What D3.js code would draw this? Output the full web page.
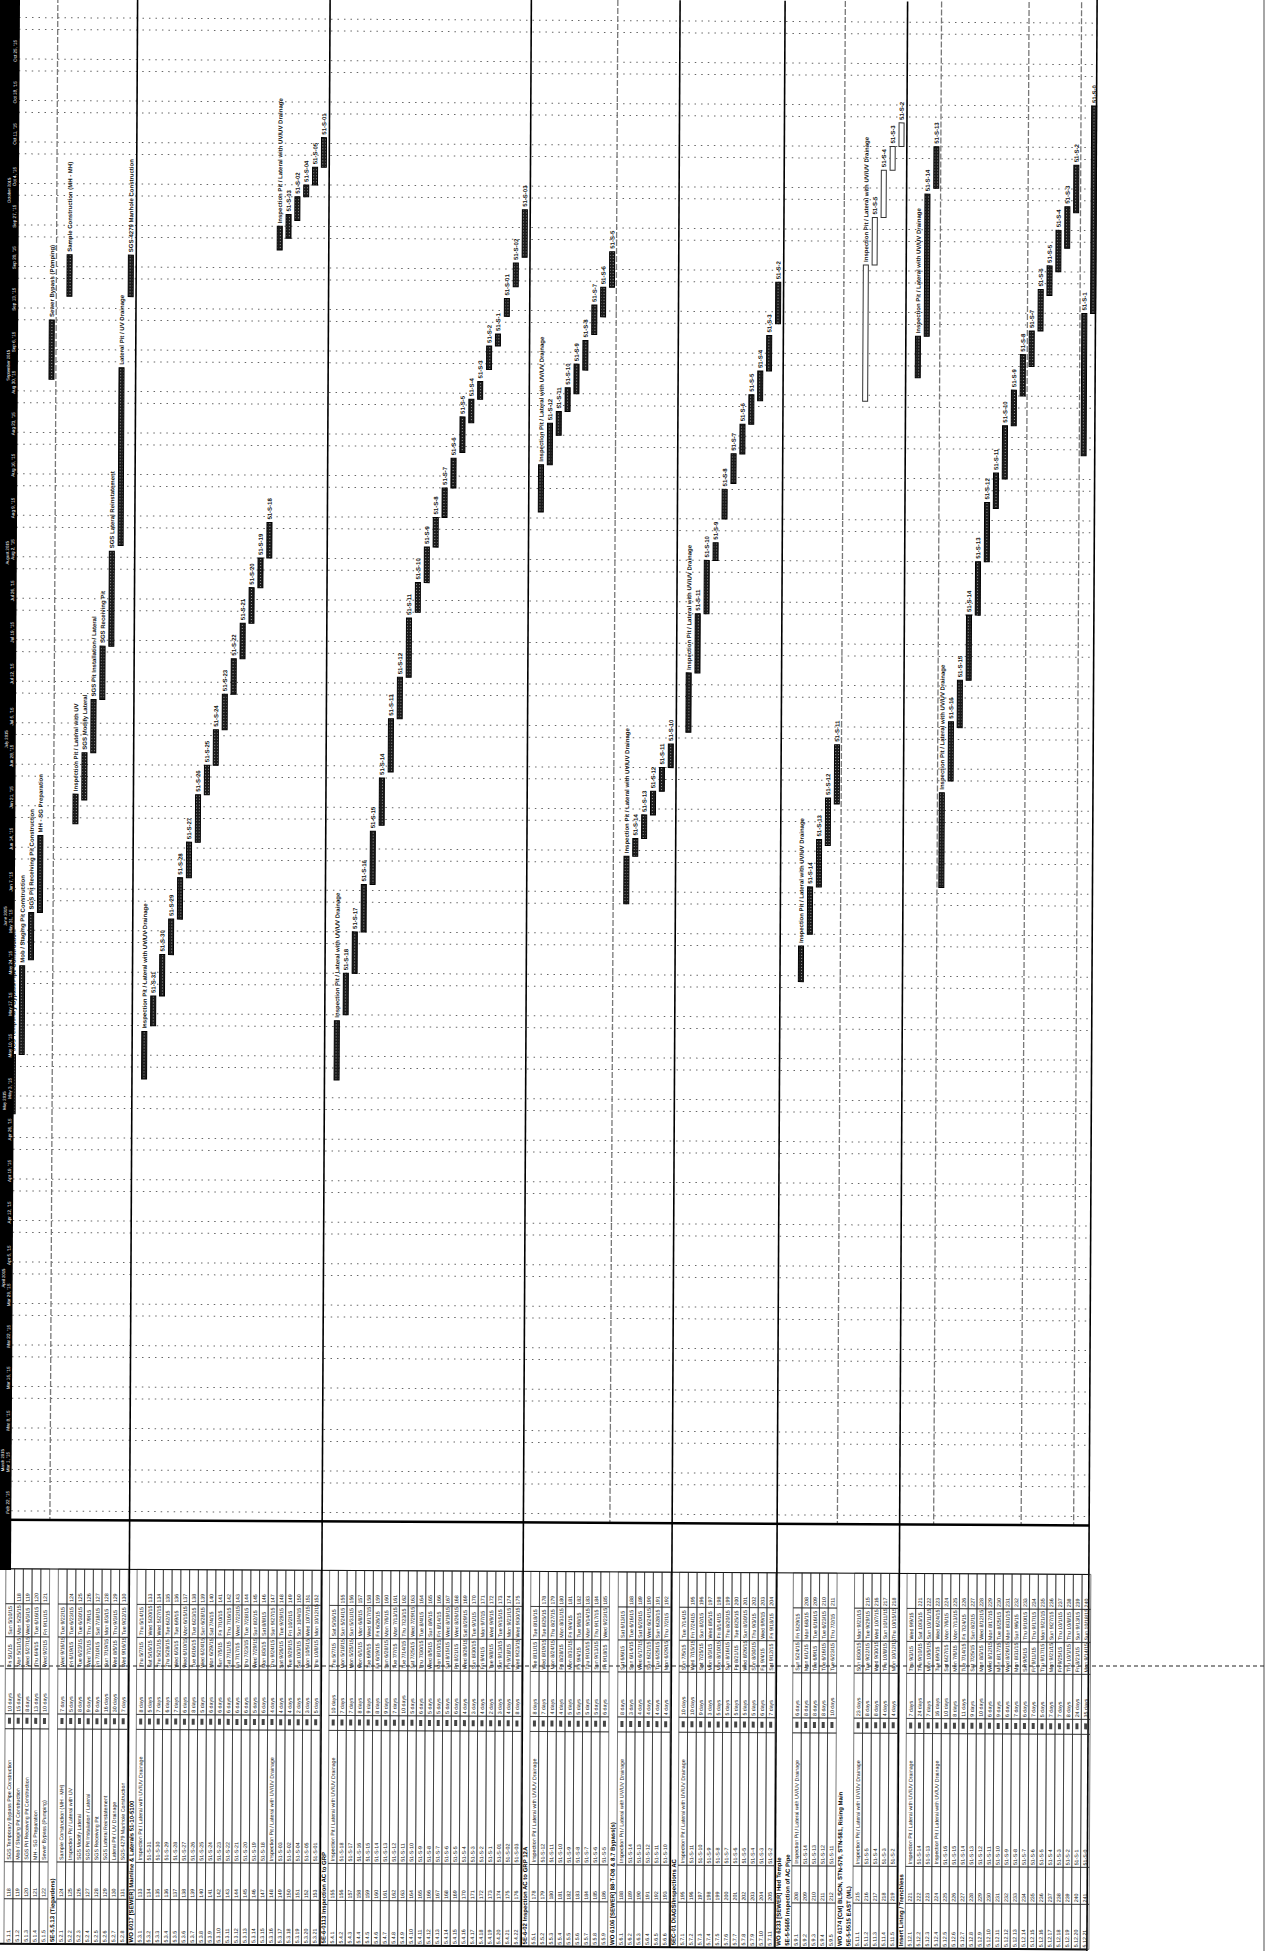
<!DOCTYPE html>
<meta charset="utf-8">
<style>
  body { margin: 0; background: #fff; }
  svg { display: block; }
  .lbl { font-family: "Liberation Sans Narrow", "Liberation Sans", Arial, sans-serif; font-weight: bold; font-size: 6px; fill: #111; }
  .cell { font-family: "Liberation Sans Narrow", "Liberation Sans", Arial, sans-serif; font-size: 5.3px; fill: #111; }
  .hdr { font-family: "Liberation Sans Narrow", "Liberation Sans", Arial, sans-serif; font-weight: bold; font-size: 6px; fill: #000; }
  .tier { font-family: "Liberation Sans Narrow", "Liberation Sans", Arial, sans-serif; fill: #fff; }
</style>
<script src="https://d3js.org/d3.v7.min.js"></script>
<div id="chart"></div>
<script>

// ---- data ----
// sheet row of every task (row 0 = first row on the page)
var taskRows = [0, 1, 2, 3, 4, 6, 7, 8, 9, 10, 11, 12, 13,
  15, 16, 17, 18, 19, 20, 21, 22, 23, 24, 25, 26, 27, 28, 29, 30, 31, 32, 33, 34, 35,
  37, 38, 39, 40, 41, 42, 43, 44, 45, 46, 47, 48, 49, 50, 51, 52, 53, 54, 55, 56, 57, 58,
  60, 61, 62, 63, 64, 65, 66, 67, 68,
  70, 71, 72, 73, 74, 75,
  77, 78, 79, 80, 81, 82, 83, 84, 85, 86, 87,
  90, 91, 92, 93, 94,
  97, 98, 99, 100, 101,
  103, 104, 105,
  106, 107, 108, 109, 110, 111, 112, 113, 114, 115, 116, 117, 118, 119, 120, 121, 122, 123];

var insp = "Inspection Pit / Lateral with UV/UV Drainage";
var taskLabels = ["SGS Temporary Bypass Pipe Construction", "Mob / Staging Pit Construction", "SGS Pit Receiving Pit Construction",
  "MH - SG Preparation", "Sewer Bypass (Pumping)", "Sample Construction (MH - MH)", "Inspection Pit / Lateral with UV",
  "SGS Modify Lateral", "SGS Pit Installation / Lateral", "SGS Receiving Pit", "SGS Lateral Reinstatement",
  "Lateral Pit / UV Drainage", "SGS-4279 Manhole Construction",
  insp, "51-S-31", "51-S-30", "51-S-29", "51-S-28", "51-S-27", "51-S-26", "51-S-25", "51-S-24", "51-S-23",
  "51-S-22", "51-S-21", "51-S-20", "51-S-19", "51-S-18",
  insp, "51-S-03", "51-S-02", "51-S-04", "51-S-05", "51-S-01",
  insp, "51-S-18", "51-S-17", "51-S-16", "51-S-15", "51-S-14", "51-S-13", "51-S-12", "51-S-11", "51-S-10",
  "51-S-9", "51-S-8", "51-S-7", "51-S-6", "51-S-5", "51-S-4", "51-S-3", "51-S-2", "51-S-1", "51-S-01", "51-S-02", "51-S-03",
  insp, "51-S-12", "51-S-11", "51-S-10", "51-S-9", "51-S-8", "51-S-7", "51-S-6", "51-S-5",
  insp, "51-S-14", "51-S-13", "51-S-12", "51-S-11", "51-S-10",
  insp, "51-S-11", "51-S-10", "51-S-9", "51-S-8", "51-S-7", "51-S-6", "51-S-5", "51-S-4", "51-S-3", "51-S-2",
  insp, "51-S-14", "51-S-13", "51-S-12", "51-S-11",
  insp, "51-S-5", "51-S-4", "51-S-3", "51-S-2",
  insp, "51-S-14", "51-S-13",
  insp, "51-S-16", "51-S-15", "51-S-14", "51-S-13", "51-S-12", "51-S-11", "51-S-10", "51-S-9", "51-S-8",
  "51-S-7", "51-S-6", "51-S-5", "51-S-4", "51-S-3", "51-S-2", "51-S-1", "51-S-0"];

var taskStarts = ["2015-05-01", "2015-05-11", "2015-05-27", "2015-06-04", "2015-09-02", "2015-09-16", "2015-06-19",
  "2015-06-23", "2015-07-01", "2015-07-10", "2015-07-19", "2015-08-05", "2015-09-16",
  "2015-05-07", "2015-05-16", "2015-05-21", "2015-05-28", "2015-06-03", "2015-06-10", "2015-06-16", "2015-06-24",
  "2015-06-29", "2015-07-05", "2015-07-11", "2015-07-17", "2015-07-23", "2015-07-29", "2015-08-03",
  "2015-09-24", "2015-09-26", "2015-09-29", "2015-10-03", "2015-10-05", "2015-10-08",
  "2015-05-07", "2015-05-18", "2015-05-25", "2015-06-01", "2015-06-09", "2015-06-19", "2015-06-28", "2015-07-07",
  "2015-07-14", "2015-07-25", "2015-07-30", "2015-08-05", "2015-08-10", "2015-08-15", "2015-08-21", "2015-08-26",
  "2015-08-30", "2015-09-04", "2015-09-08", "2015-09-13", "2015-09-18", "2015-09-23",
  "2015-08-11", "2015-08-19", "2015-08-24", "2015-08-28", "2015-08-31", "2015-09-04", "2015-09-10", "2015-09-13", "2015-09-18",
  "2015-06-06", "2015-06-14", "2015-06-17", "2015-06-21", "2015-06-25", "2015-06-29",
  "2015-07-05", "2015-07-15", "2015-07-25", "2015-08-03", "2015-08-10", "2015-08-16", "2015-08-21", "2015-08-26",
  "2015-08-30", "2015-09-04", "2015-09-12",
  "2015-05-24", "2015-06-01", "2015-06-09", "2015-06-16", "2015-06-23",
  "2015-08-30", "2015-09-22", "2015-09-30", "2015-10-08", "2015-10-12",
  "2015-09-03", "2015-09-10", "2015-10-05",
  "2015-06-09", "2015-06-27", "2015-07-06", "2015-07-14", "2015-07-25", "2015-08-03", "2015-08-12", "2015-08-17",
  "2015-08-26", "2015-08-31", "2015-09-05", "2015-09-11", "2015-09-17", "2015-09-21", "2015-09-25", "2015-10-01",
  "2015-08-21", "2015-09-14"];

var taskDays = [10, 15, 8, 13, 10, 7, 5, 8, 9, 9, 16, 30, 7,
  8, 5, 7, 6, 7, 6, 8, 5, 6, 6, 6, 6, 6, 5, 6, 4, 4, 4, 2, 3, 5,
  10, 7, 7, 8, 9, 8, 9, 7, 10, 5, 6, 5, 5, 5, 6, 4, 3, 4, 2, 3, 4, 8,
  8, 7, 4, 4, 5, 5, 5, 5, 6,
  8, 3, 4, 4, 4, 4,
  10, 10, 9, 3, 5, 5, 5, 5, 5, 6, 7,
  6, 8, 8, 8, 10,
  23, 8, 8, 4, 4,
  7, 24, 7,
  16, 10, 8, 11, 9, 10, 6, 9, 6, 7, 6, 7, 5, 7, 7, 8, 24, 35];

// tasks drawn as outlined (unfilled) bars
var hollowRows = [97, 98, 99, 100, 101];

// summary rows in the sheet
var groupRows = [5, 14, 36, 59, 69, 76, 88, 89, 95, 96, 102];
var groupNames = ["5E-5.5.13 (Tiegardens)", "WO 6017 [SEWER] Mainline & Laterals 51-10-5100",
  "5E-6-0113 Inspection AC to GRP", "5E-6-02 Inspection AC to GRP 12A", "WO 6106 [SEWER] 88-T-D8 & 8.7 Bypass(s)",
  "5EC-01 DIAGS/Inspections AC", "WO 6233 [SEWER] Hed Temple", "5E-5-5665 Inspection of AC Pipe",
  "WO 6174 [CM] BLSCN, STN-579, STN-581, Rising Main", "5E-5-5515 EAST (ML)", "Insert Lining / Trenchless"];

// rows with a rule through the timescale
var solidRules = [14, 36, 59, 76, 88, 102];
var dashedRules = [5, 69, 95, 106, 116, 122];

// ---- layout ----
var W = 1269, H = 1951;
var nRows = 124, rowStart = 9, rowPitch = 8.75;
var stripRight = 14, chartRight = 1092, chartBottom = 1523;
var cols = [1572, 1607, 1640, 1672, 1717, 1732, 1865, 1902, 1947];

var parse = d3.timeParse("%Y-%m-%d");
var fmtDate = d3.timeFormat("%a %-m/%-d/%y");
var fmtWeek = d3.timeFormat("%b %-d, '%y");
var fmtMonth = d3.timeFormat("%B %Y");

var x = d3.scaleBand()
    .domain(d3.range(nRows))
    .range([rowStart, rowStart + nRows * rowPitch]);
var y = d3.scaleTime()
    .domain([new Date(2015, 1, 21, 12), new Date(2015, 10, 5, 12)])
    .range([chartBottom, 0]);

var svg = d3.select("#chart").append("svg")
    .attr("width", W)
    .attr("height", H);
svg.append("rect").attr("width", W).attr("height", H).attr("fill", "#fff");

var defs = svg.append("defs");
var pat = defs.append("pattern").attr("id", "speck")
    .attr("width", 3).attr("height", 3).attr("patternUnits", "userSpaceOnUse");
pat.append("rect").attr("width", 3).attr("height", 3).attr("fill", "#1b1b1b");
pat.append("rect").attr("width", 1).attr("height", 1).attr("fill", "#9c9c9c");

// edge of the scanned sheet on the right
svg.append("line")
    .attr("x1", 1264).attr("x2", 1264).attr("y1", 0).attr("y2", H)
    .attr("stroke", "#888").attr("stroke-width", 1.5);

// the scan sits slightly skewed
var g = svg.append("g").attr("transform", "rotate(0.3,635,975)");

// weekend gridlines
var dom = y.domain();
var gridDays = d3.timeSaturday.range(dom[0], dom[1]).concat(d3.timeMonday.range(dom[0], dom[1]));
g.append("g").selectAll("line")
  .data(gridDays)
  .join("line")
    .attr("x1", stripRight).attr("x2", chartRight)
    .attr("y1", d => y(d)).attr("y2", d => y(d))
    .attr("stroke", "#666").attr("stroke-width", 1)
    .attr("stroke-dasharray", "1.5,5");

// rules at summary rows
g.append("g").selectAll("line")
  .data(solidRules)
  .join("line")
    .attr("x1", d => x(d) + 1).attr("x2", d => x(d) + 1)
    .attr("y1", 0).attr("y2", cols[8])
    .attr("stroke", "#000").attr("stroke-width", 1.6);
g.append("g").selectAll("line")
  .data(dashedRules)
  .join("line")
    .attr("x1", d => x(d)).attr("x2", d => x(d))
    .attr("y1", 0).attr("y2", chartBottom)
    .attr("stroke", "#777").attr("stroke-width", 1.3)
    .attr("stroke-dasharray", "6,2");

// frame
g.append("line").attr("x1", 0).attr("x2", chartRight).attr("y1", chartBottom).attr("y2", chartBottom)
    .attr("stroke", "#000").attr("stroke-width", 2.5);
g.append("line").attr("x1", chartRight).attr("x2", chartRight).attr("y1", -10).attr("y2", H + 10)
    .attr("stroke", "#000").attr("stroke-width", 1.6);
g.append("line").attr("x1", 0).attr("x2", chartRight).attr("y1", cols[0]).attr("y2", cols[0])
    .attr("stroke", "#000").attr("stroke-width", 1);
g.append("line").attr("x1", 0).attr("x2", chartRight).attr("y1", cols[8]).attr("y2", cols[8])
    .attr("stroke", "#000").attr("stroke-width", 2);
svg.append("line").attr("x1", 0).attr("x2", 1264).attr("y1", 1666).attr("y2", 1666)
    .attr("stroke", "#222").attr("stroke-width", 1).attr("stroke-dasharray", "4,3");

// tasks
var tasks = taskRows.map(function(r, i) {
  var s = parse(taskStarts[i]);
  return { row: r, label: taskLabels[i], start: s, end: d3.timeDay.offset(s, taskDays[i]), days: taskDays[i],
           hollow: hollowRows.indexOf(r) >= 0 };
});
var cx = function(r) { return x(r) + x.bandwidth() / 2; };

g.append("g").selectAll("rect")
  .data(tasks)
  .join("rect")
    .attr("x", d => cx(d.row) - 2.5)
    .attr("width", 5)
    .attr("y", d => y(d.end))
    .attr("height", d => y(d.start) - y(d.end))
    .attr("fill", d => d.hollow ? "#fff" : "url(#speck)")
    .attr("stroke", d => d.hollow ? "#333" : "#000")
    .attr("stroke-width", 1);

g.append("g").selectAll("text")
  .data(tasks)
  .join("text")
    .attr("class", "lbl")
    .attr("transform", d => "translate(" + (cx(d.row) + 2.2) + "," + (y(d.end) - 3) + ") rotate(-90)")
    .text(d => d.label);

// table
var table = g.append("g");
var ids = function(r) { return r + 118; };
var groupNo = function(r) { return groupRows.filter(h => h < r).length + 1; };
var prevRow = {};
tasks.forEach(function(t, i) {
  var p = tasks[i - 1];
  prevRow[t.row] = (p && p.row === t.row - 1) ? ids(p.row) : "";
});
var numInGroup = {};
tasks.forEach(function(t) {
  var g0 = groupNo(t.row);
  numInGroup[g0] = (numInGroup[g0] || 0) + 1;
  t.wbs = "5." + g0 + "." + numInGroup[g0];
});

tasks.forEach(function(t) {
  var r = t.row, x0 = x(r), c = cx(r);
  var texts = [String(prevRow[r]), fmtDate(d3.timeDay.offset(t.end, -1)), fmtDate(t.start),
               t.days + " days", "", t.label, String(ids(r)), t.wbs];
  for (var j = 0; j < 8; j++) {
    table.append("rect")
        .attr("x", x0).attr("y", cols[j])
        .attr("width", x.bandwidth()).attr("height", cols[j + 1] - cols[j])
        .attr("fill", "none").attr("stroke", "#222").attr("stroke-width", 0.6);
    if (texts[j]) {
      table.append("text")
          .attr("class", "cell")
          .attr("transform", "translate(" + (c + 2) + "," + (cols[j + 1] - 2) + ") rotate(-90)")
          .text(texts[j]);
    }
  }
  // task mode mark
  table.append("rect")
      .attr("x", c - 1.5).attr("y", cols[4] + 4)
      .attr("width", 3).attr("height", 6)
      .attr("fill", "#444");
});

table.selectAll("text.hdr")
  .data(groupRows)
  .join("text")
    .attr("class", "hdr")
    .attr("transform", (d, i) => "translate(" + (cx(d) + 2.2) + "," + (cols[8] - 2) + ") rotate(-90)")
    .text((d, i) => groupNames[i]);

// black timescale strip down the left edge (drawn last, wider at the top like the scan)
svg.append("polygon")
    .attr("points", "0,0 20,0 11,1570 0,1570")
    .attr("fill", "#000");
var stripLabels = svg.append("g").attr("transform", "rotate(0.3,635,975)");
stripLabels.selectAll("text.wk")
  .data(d3.timeSunday.range(dom[0], dom[1]).filter(d => y(d) > 34))
  .join("text")
    .attr("class", "tier wk")
    .attr("font-size", 4.6)
    .attr("transform", d => "translate(12," + (y(d) - 3) + ") rotate(-90)")
    .text(d => fmtWeek(d));
stripLabels.selectAll("text.mo")
  .data(d3.timeMonth.range(dom[0], dom[1]).filter(d => y(d) > 40))
  .join("text")
    .attr("class", "tier mo")
    .attr("font-size", 4.2)
    .attr("transform", d => "translate(6.5," + (y(d) - 4) + ") rotate(-90)")
    .text(d => fmtMonth(d));

</script>
